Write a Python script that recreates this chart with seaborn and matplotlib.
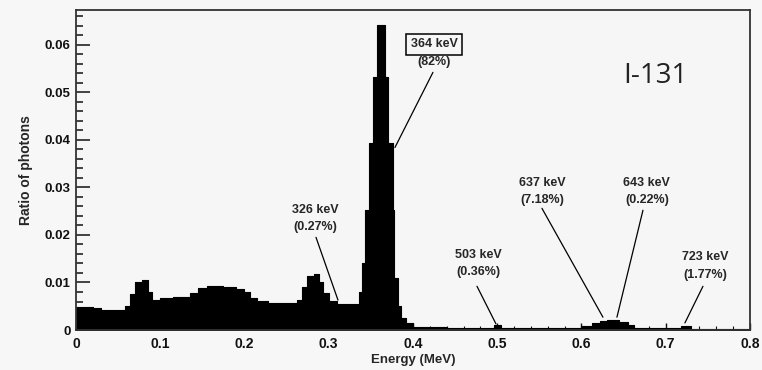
import matplotlib
matplotlib.use("Agg")
import matplotlib.pyplot as plt
import seaborn as sns
import numpy as np
import pandas as pd
from matplotlib.ticker import MultipleLocator

# I-131 gamma spectrum, variable width bins (MeV) and ratio of photons
bin_edges = [
    0.000, 0.020, 0.030, 0.058, 0.064, 0.070, 0.078, 0.086, 0.090, 0.100,
    0.115, 0.135, 0.145, 0.155, 0.175, 0.190, 0.200, 0.207, 0.215, 0.228,
    0.250, 0.262, 0.268, 0.274, 0.282, 0.288, 0.293, 0.300, 0.310, 0.336,
    0.339, 0.343, 0.348, 0.352, 0.357, 0.367, 0.370, 0.376, 0.378, 0.382,
    0.386, 0.392, 0.400, 0.440, 0.496, 0.504, 0.600, 0.612, 0.622, 0.630,
    0.645, 0.655, 0.662, 0.718, 0.730, 0.800,
]
ratio = [
    0.0049, 0.0046, 0.0043, 0.0050, 0.0075, 0.0100, 0.0106, 0.0080, 0.0064,
    0.0067, 0.0070, 0.0078, 0.0088, 0.0093, 0.0091, 0.0087, 0.0080, 0.0068,
    0.0062, 0.0057, 0.0056, 0.0064, 0.0090, 0.0113, 0.0117, 0.0102, 0.0078,
    0.0062, 0.0055, 0.0080, 0.0141, 0.0252, 0.0393, 0.0532, 0.0641, 0.0532,
    0.0393, 0.0252, 0.0110, 0.0050, 0.0025, 0.0015, 0.0007, 0.0005, 0.0010,
    0.0005, 0.0008, 0.0015, 0.0020, 0.0022, 0.0017, 0.0010, 0.0004, 0.0008,
    0.0003,
]
peak_names = ["364 keV", "326 keV", "503 keV", "637 keV", "643 keV", "723 keV"]
peak_yields = ["(82%)", "(0.27%)", "(0.36%)", "(7.18%)", "(0.22%)", "(1.77%)"]

# label placement: text x, energy-line y, yield-line y, line start, line end
label_pos = [
    (0.425, 0.0601, 0.0563, (0.4237, 0.0542), (0.3786, 0.0384)),
    (0.2837, 0.0252, 0.0216, (0.2849, 0.0195), (0.3110, 0.0063)),
    (0.4772, 0.0158, 0.0122, (0.4760, 0.0092), (0.4985, 0.0013)),
    (0.5531, 0.0309, 0.0273, (0.5531, 0.0256), (0.6255, 0.0027)),
    (0.6777, 0.0309, 0.0273, (0.6730, 0.0252), (0.6421, 0.0027)),
    (0.7466, 0.0153, 0.0116, (0.7442, 0.0092), (0.7228, 0.0015)),
]

sns.set_style("white")
plt.rcParams["font.family"] = ["Liberation Sans", "DejaVu Sans"]
plt.rcParams["font.weight"] = "bold"

fig = plt.figure(figsize=(7.62, 3.70), dpi=100, facecolor="#f7f7f7")
ax = fig.add_axes([0.0997, 0.108, 0.8845, 0.866])
ax.set_facecolor("#f6f6f6")

edges = np.array(bin_edges)
spectrum = pd.DataFrame({"energy": (edges[:-1] + edges[1:]) / 2, "ratio": ratio})
sns.histplot(data=spectrum, x="energy", weights="ratio", bins=bin_edges,
             element="step", fill=True, color="black", alpha=1.0,
             linewidth=0.8, edgecolor="black", ax=ax)

ax.set_xlim(0, 0.8)
ax.set_ylim(0, 0.0674)
ax.xaxis.set_minor_locator(MultipleLocator(0.02))
ax.yaxis.set_minor_locator(MultipleLocator(0.002))
ax.set_xticks(np.arange(0, 0.81, 0.1))
ax.set_xticklabels(["0", "0.1", "0.2", "0.3", "0.4", "0.5", "0.6", "0.7", "0.8"],
                   fontweight="bold")
ax.set_yticks(np.arange(0, 0.061, 0.01))
ax.set_yticklabels(["0", "0.01", "0.02", "0.03", "0.04", "0.05", "0.06"],
                   fontweight="bold")
ax.tick_params(axis="y", which="major", direction="in", length=10, width=1.1,
               labelsize=9.5, pad=4, left=True, colors="#111111")
ax.tick_params(axis="y", which="minor", direction="in", length=5, width=1.1,
               left=True, colors="#111111")
ax.tick_params(axis="x", which="major", direction="in", length=5, width=1,
               labelsize=10, pad=5, bottom=True, colors="#111111")
ax.tick_params(axis="x", which="minor", direction="in", length=3, width=0.8,
               bottom=True, colors="#111111")

for sp in ax.spines.values():
    sp.set_color("#333333")
    sp.set_linewidth(1.3)

ax.set_xlabel("Energy (MeV)", fontsize=9.5, fontweight="bold")
ax.set_ylabel("Ratio of photons", fontsize=10, fontweight="bold")
ax.xaxis.set_label_coords(0.5, -0.075)
ax.yaxis.set_label_coords(-0.064, 0.5)

for i, (name, yld) in enumerate(zip(peak_names, peak_yields)):
    tx, ty1, ty2, p0, p1 = label_pos[i]
    box = None
    if i == 0:
        box = dict(boxstyle="square,pad=0.35", fc="none", ec="black", lw=1.1)
    ax.text(tx, ty1, name, ha="center", va="center", fontsize=9,
            fontweight="bold", bbox=box)
    ax.text(tx, ty2, yld, ha="center", va="center", fontsize=9,
            fontweight="bold")
    ax.annotate("", xy=p1, xytext=p0,
                arrowprops=dict(arrowstyle="-", lw=0.9, color="black",
                                shrinkA=0, shrinkB=0))

ax.text(0.6877, 0.0535, "I-131", ha="center", va="center", fontsize=20,
        fontweight="normal", family=["Open Sans", "DejaVu Sans"],
        color="#222222")

fig.savefig("out.png", dpi=100, facecolor=fig.get_facecolor())
